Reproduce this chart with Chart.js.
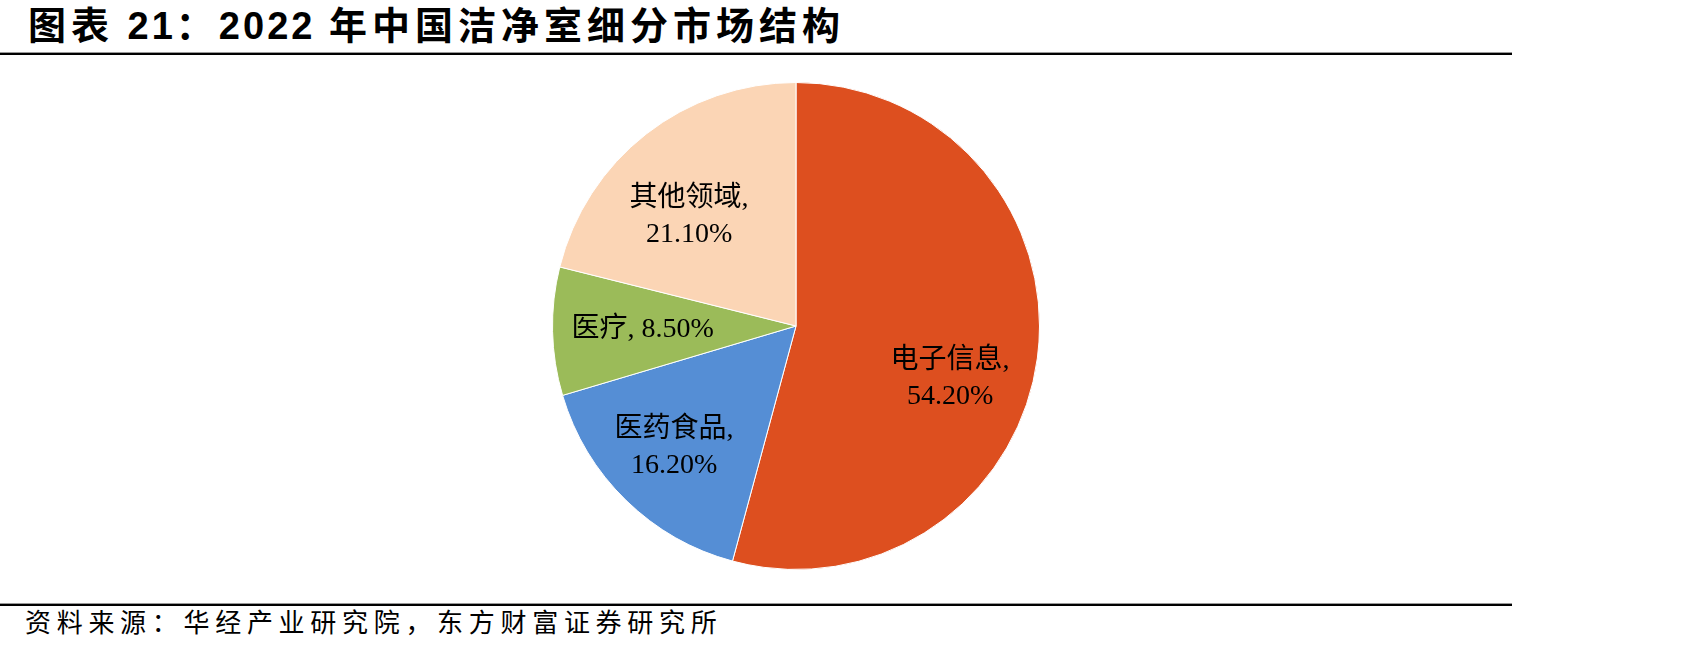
<!DOCTYPE html>
<html>
<head>
<meta charset="utf-8">
<script src="https://cdn.jsdelivr.net/npm/chart.js@4/dist/chart.umd.min.js"></script>
<style>
  body { margin: 0; width: 1701px; height: 657px; background: #fff; position: relative; overflow: hidden; }
  #title {
    position: absolute; left: 28px; top: 7px;
    font: bold 38px/38px "Liberation Sans", "Noto Sans CJK SC", sans-serif;
    letter-spacing: 5px; color: #000; white-space: nowrap;
  }
  #title .num { letter-spacing: 3px; }
  .rule { position: absolute; left: 0; width: 1512px; height: 2px; background: #000; border-top: 1px solid #999; }
  #source {
    position: absolute; left: 25px; top: 611px;
    font: 26px/26px "Liberation Serif", "Noto Sans CJK SC", serif;
    letter-spacing: 5.7px; color: #000; white-space: nowrap;
  }
  #wrap { position: absolute; left: 496px; top: 60px; width: 600px; height: 532px; }
</style>
</head>
<body>
<div id="title">图表<span class="num"> 21</span>：<span class="num">2022 </span>年中国洁净室细分市场结构</div>
<div class="rule" style="top:52px"></div>
<div id="wrap"><canvas id="myChart" width="600" height="532"></canvas></div>
<div class="rule" style="top:603px"></div>
<div id="source">资料来源：华经产业研究院，东方财富证券研究所</div>

<script>
// Data
const categories = ["电子信息", "医药食品", "医疗", "其他领域"];
const shares = [54.2, 16.2, 8.5, 21.1];
const colors = ["#DD4F1F", "#558ED5", "#9BBB59", "#FBD5B5"];

// label placement per slice: fraction of radius and angle shift (deg)
const labelPlace = [
  { r: 0.665, shift: 10.4 },
  { r: 0.70, shift: 1.4 },
  { r: 0.63, shift: 1.0 },
  { r: 0.636, shift: -5.7 }
];

const sliceLabels = {
  id: 'sliceLabels',
  afterDatasetsDraw(chart) {
    const ctx = chart.ctx;
    const meta = chart.getDatasetMeta(0);
    ctx.save();
    ctx.fillStyle = '#000';
    ctx.font = '28px "Liberation Serif", "Noto Sans CJK SC", serif';
    ctx.textAlign = 'center';
    ctx.textBaseline = 'middle';
    meta.data.forEach((arc, i) => {
      const { x, y, startAngle, endAngle, outerRadius } = arc.getProps(['x', 'y', 'startAngle', 'endAngle', 'outerRadius'], true);
      const p = labelPlace[i];
      const mid = (startAngle + endAngle) / 2 + p.shift * Math.PI / 180;
      const px = x + Math.cos(mid) * outerRadius * p.r;
      const py = y + Math.sin(mid) * outerRadius * p.r + 3;
      const val = shares[i].toFixed(2) + '%';
      if (shares[i] < 10) {
        ctx.fillText(categories[i] + ', ' + val, px, py);
      } else {
        ctx.fillText(categories[i] + ',', px, py - 18);
        ctx.fillText(val, px, py + 18);
      }
    });
    ctx.restore();
  }
};

const ctx = document.getElementById('myChart').getContext('2d');
const chart = new Chart(ctx, {
  type: 'pie',
  data: {
    labels: categories,
    datasets: [{
      data: shares,
      backgroundColor: colors,
      borderColor: '#fff',
      borderWidth: 1
    }]
  },
  options: {
    responsive: false,
    animation: false,
    layout: { padding: 22 },
    plugins: {
      legend: { display: false },
      tooltip: { enabled: false }
    }
  },
  plugins: [sliceLabels]
});
</script>
</body>
</html>
